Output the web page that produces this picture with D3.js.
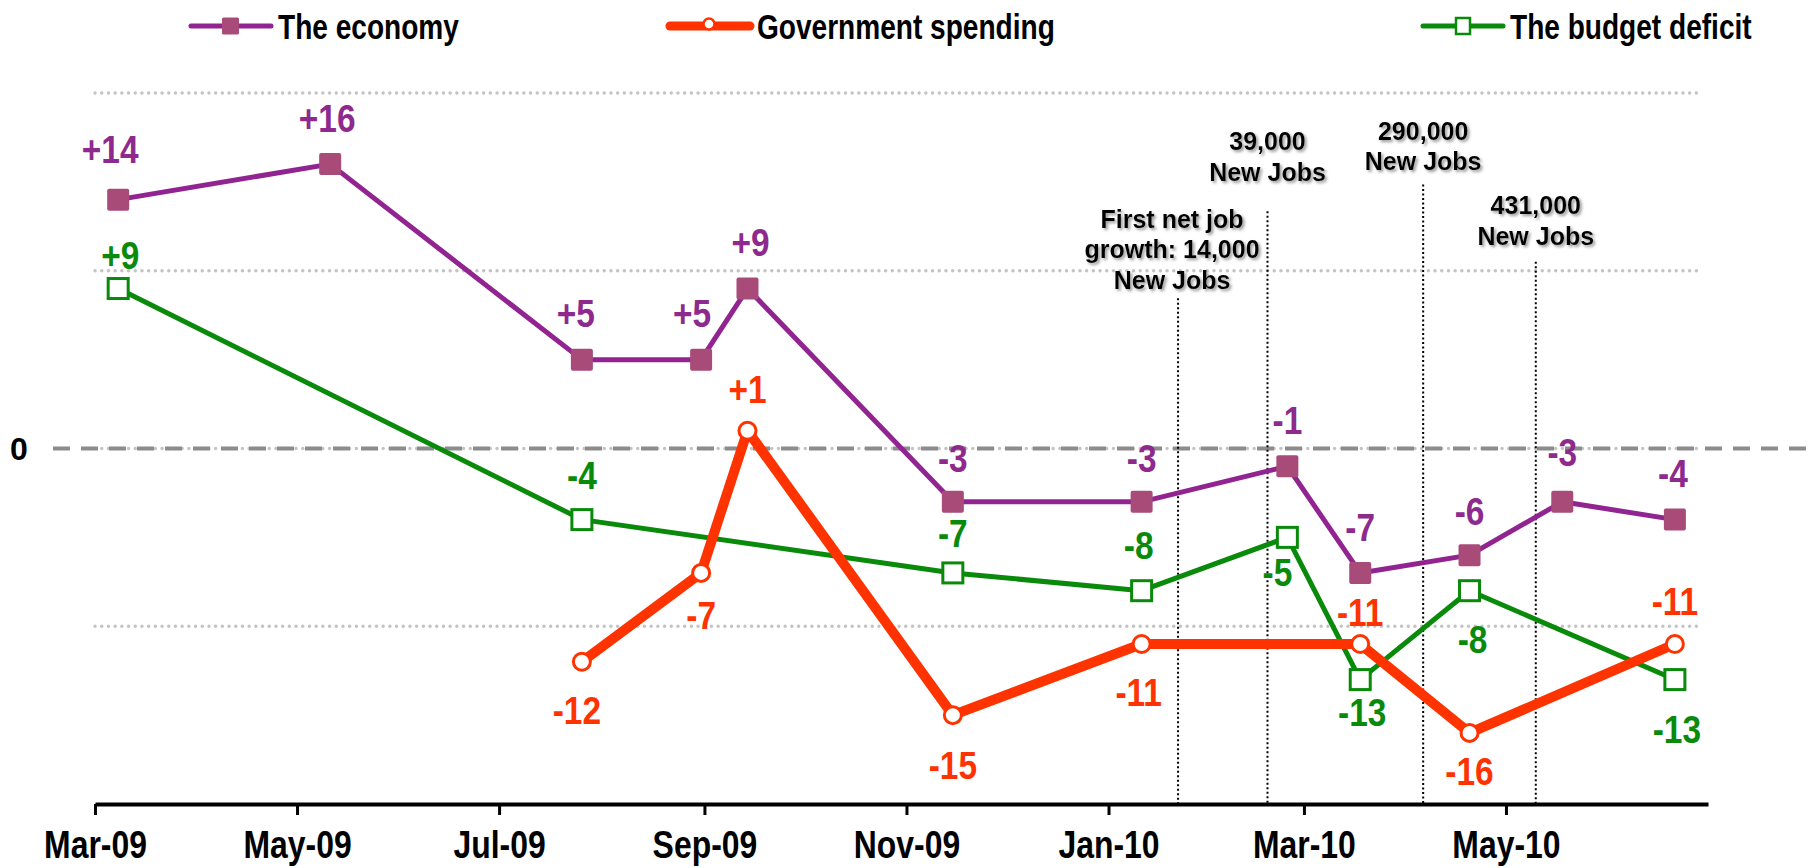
<!DOCTYPE html>
<html>
<head>
<meta charset="utf-8">
<script src="https://cdn.jsdelivr.net/npm/d3@7"></script>
<style>
  body { margin: 0; background: #fff; }
  svg { display: block; }
</style>
</head>
<body>
<svg id="canvas" width="1815" height="868"></svg>
<script>
// data
const econDates = ["2009-03-08","2009-05-11","2009-07-26","2009-08-31","2009-09-14","2009-11-15","2010-01-11","2010-02-24","2010-03-18","2010-04-20","2010-05-18","2010-06-21"];
const econValues = [14, 16, 5, 5, 9, -3, -3, -1, -7, -6, -3, -4];

const govDates = ["2009-07-26","2009-08-31","2009-09-14","2009-11-15","2010-01-11","2010-03-18","2010-04-20","2010-06-21"];
const govValues = [-12, -7, 1, -15, -11, -11, -16, -11];

const deficitDates = ["2009-03-08","2009-07-26","2009-11-15","2010-01-11","2010-02-24","2010-03-18","2010-04-20","2010-06-21"];
const deficitValues = [9, -4, -7, -8, -5, -13, -8, -13];

const seriesNames = ["The economy", "Government spending", "The budget deficit"];
const yTicks = [20, 10, 0, -10];
const tickDates = ["2009-03-01","2009-05-01","2009-07-01","2009-09-01","2009-11-01","2010-01-01","2010-03-01","2010-05-01"];

// job report notes
const noteDates = ["2010-01-22","2010-02-18","2010-04-06","2010-05-10"];
const noteLines = [
  ["First net job", "growth: 14,000", "New Jobs"],
  ["39,000", "New Jobs"],
  ["290,000", "New Jobs"],
  ["431,000", "New Jobs"]
];
const noteTop = [8.45, 13.35, 14.85, 10.5];   // where the dotted line starts
const noteBase = [9.0, 15.05, 15.65, 11.45];  // baseline of last text line

// label offsets (px), kept apart from the values
const econDx = [-8, -3, -6, -9, 3, 0, 0, 0, 0, 0, 0, -2];
const econDy = [-50, -46, -46, -46, -46, -44, -44, -46, -46, -44, -50, -46];
const govDx = [-5, 0, 0, 0, -3, 0, 0, 0];
const govDy = [49, 42, -41, 50, 48, -32, 38, -43];
const defDx = [2, 0, 0, -3, -10, 2, 3, 2];
const defDy = [-33, -44, -40, -45, 35, 33, 49, 50];

const purple = "#912490", mauve = "#a84b79", red = "#ff3300", green = "#0a8a0a";
const labelFont = "'Liberation Sans', Arial, sans-serif";

let svg = d3.select("#canvas");
const parse = d3.timeParse("%Y-%m-%d");

let x = d3.scaleTime()
  .domain([parse("2009-03-01"), parse("2010-07-01")])
  .range([95, 1708]);
let y = d3.scaleLinear().domain([-20, 20]).range([804, 93]);

// shadow for the notes
let defs = svg.append("defs");
defs.append("filter").attr("id", "shadow")
  .attr("x", "-10%").attr("y", "-30%").attr("width", "130%").attr("height", "170%")
  .append("feDropShadow")
  .attr("dx", 2).attr("dy", 2).attr("stdDeviation", 1.4)
  .attr("flood-color", "#777").attr("flood-opacity", 0.75);

// gridlines
svg.append("g").selectAll("line")
  .data(yTicks)
  .enter().append("line")
  .attr("x1", 95).attr("x2", 1702)
  .attr("y1", d => y(d)).attr("y2", d => y(d))
  .attr("stroke", "#c4c4c4").attr("stroke-width", 3.4)
  .attr("stroke-linecap", "round")
  .attr("stroke-dasharray", "0.1,6.6");

// zero line
svg.append("line")
  .attr("x1", 53).attr("x2", 1815)
  .attr("y1", y(0)).attr("y2", y(0))
  .attr("stroke", "#8c8c8c").attr("stroke-width", 4)
  .attr("stroke-dasharray", "17,11");

svg.append("text")
  .attr("x", 19).attr("y", y(0))
  .attr("dy", "0.36em")
  .attr("text-anchor", "middle")
  .style("font-family", labelFont).style("font-weight", "bold").style("font-size", "32px")
  .text("0");

// x axis
let xAxis = d3.axisBottom(x)
  .tickValues(tickDates.map(parse))
  .tickFormat(d3.timeFormat("%b-%y"))
  .tickSize(11)
  .tickSizeOuter(0)
  .tickPadding(16);

let ax = svg.append("g")
  .attr("transform", "translate(0," + 804 + ")")
  .call(xAxis);
ax.select(".domain").attr("stroke", "#000").attr("stroke-width", 4);
ax.selectAll(".tick line").attr("stroke", "#000").attr("stroke-width", 3);
ax.selectAll(".tick text")
  .attr("fill", "#000")
  .attr("transform", "scale(0.84,1)")
  .style("font-family", labelFont).style("font-weight", "bold").style("font-size", "38px");

// notes
noteDates.forEach((d, i) => {
  let nx = x(parse(d));
  svg.append("line")
    .attr("x1", nx).attr("x2", nx)
    .attr("y1", y(noteTop[i])).attr("y2", 803)
    .attr("stroke", "#000").attr("stroke-width", 2)
    .attr("stroke-dasharray", "2,2.5");
  let lines = noteLines[i];
  let t = svg.append("text")
    .attr("text-anchor", "middle")
    .attr("filter", "url(#shadow)")
    .style("font-family", labelFont).style("font-weight", "bold").style("font-size", "25px");
  lines.forEach((s, j) => {
    t.append("tspan")
      .attr("x", nx + (i == 0 ? -6 : 0))
      .attr("y", y(noteBase[i]) - (lines.length - 1 - j) * 30.5)
      .text(s);
  });
});

// series
let sign = v => (v > 0 ? "+" + v : "" + v);

let drawSeries = (dates, values, color, width) => {
  let pts = dates.map((d, i) => ({ date: parse(d), value: values[i] }));
  svg.append("path")
    .datum(pts)
    .attr("fill", "none")
    .attr("stroke", color)
    .attr("stroke-width", width)
    .attr("stroke-linejoin", "round")
    .attr("d", d3.line().x(d => x(d.date)).y(d => y(d.value)));
  return pts;
};

let econPts = drawSeries(econDates, econValues, purple, 5);
let defPts = drawSeries(deficitDates, deficitValues, green, 5);
let govPts = drawSeries(govDates, govValues, red, 10);

svg.append("g").selectAll("rect")
  .data(defPts)
  .enter().append("rect")
  .attr("x", d => x(d.date) - 10).attr("y", d => y(d.value) - 10)
  .attr("width", 20).attr("height", 20)
  .attr("fill", "#fff").attr("stroke", green).attr("stroke-width", 3);

svg.append("g").selectAll("rect")
  .data(econPts)
  .enter().append("rect")
  .attr("x", d => x(d.date) - 11).attr("y", d => y(d.value) - 11)
  .attr("width", 22).attr("height", 22).attr("rx", 2)
  .attr("fill", mauve);

svg.append("g").selectAll("circle")
  .data(govPts)
  .enter().append("circle")
  .attr("cx", d => x(d.date)).attr("cy", d => y(d.value))
  .attr("r", 8.5)
  .attr("fill", "#fff").attr("stroke", red).attr("stroke-width", 3);

// value labels
let drawLabels = (pts, dx, dy, color) => {
  svg.append("g").selectAll("text")
    .data(pts)
    .enter().append("text")
    .attr("transform", (d, i) => "translate(" + (x(d.date) + dx[i]) + "," + (y(d.value) + dy[i]) + ") scale(0.88,1)")
    .attr("dy", "0.36em")
    .attr("text-anchor", "middle")
    .attr("fill", color)
    .style("font-family", labelFont).style("font-weight", "bold").style("font-size", "38px")
    .text(d => sign(d.value));
};
drawLabels(econPts, econDx, econDy, "#8e2a8e");
drawLabels(govPts, govDx, govDy, red);
drawLabels(defPts, defDx, defDy, green);

// legend
let legend = svg.append("g").attr("transform", "translate(0,26)");
let legendX = [191, 670, 1423];
let legendColors = [purple, red, green];
let legendWidths = [5, 9, 5];
seriesNames.forEach((name, i) => {
  let lx = legendX[i];
  legend.append("line")
    .attr("x1", lx).attr("x2", lx + 80)
    .attr("stroke", legendColors[i]).attr("stroke-width", legendWidths[i])
    .attr("stroke-linecap", "round");
  if (i == 0) {
    legend.append("rect").attr("x", lx + 31).attr("y", -8.5)
      .attr("width", 17).attr("height", 17).attr("rx", 1.5).attr("fill", mauve);
  } else if (i == 1) {
    legend.append("circle").attr("cx", lx + 39).attr("cy", -2).attr("r", 5.5)
      .attr("fill", "#fff").attr("stroke", red).attr("stroke-width", 2.5);
  } else {
    legend.append("rect").attr("x", lx + 33).attr("y", -8)
      .attr("width", 14).attr("height", 16)
      .attr("fill", "#fff").attr("stroke", green).attr("stroke-width", 2.5);
  }
  legend.append("text")
    .attr("transform", "translate(" + (lx + 87) + ",0) scale(0.78,1)")
    .attr("dy", "0.36em")
    .style("font-family", labelFont).style("font-weight", "bold").style("font-size", "36px")
    .text(name);
});
</script>
</body>
</html>
